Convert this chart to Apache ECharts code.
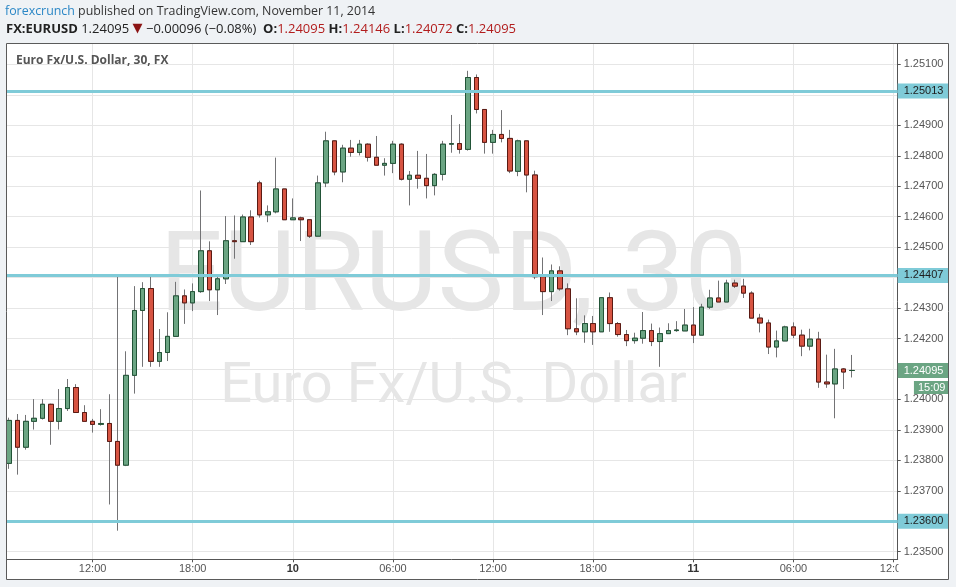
<!DOCTYPE html>
<html><head><meta charset="utf-8">
<script src="https://cdn.jsdelivr.net/npm/echarts@6/dist/echarts.min.js"></script>
<style>html,body{margin:0;padding:0;background:#eff2f5;}#c{width:956px;height:587px;}</style>
</head><body><div id="c"></div>
<script>
// ---- time categories (30-minute bars) ----
const day9 = ['07:00','07:30','08:00','08:30','09:00','09:30','10:00','10:30','11:00','11:30','12:00','12:30','13:00','13:30','14:00','14:30','15:00','15:30','16:00','16:30','17:00','17:30','18:00','18:30','19:00','19:30','20:00','20:30','21:00','21:30','22:00','22:30','23:00','23:30'];
const day10 = ['00:00','00:30','01:00','01:30','02:00','02:30','03:00','03:30','04:00','04:30','05:00','05:30','06:00','06:30','07:00','07:30','08:00','08:30','09:00','09:30','10:00','10:30','11:00','11:30','12:00','12:30','13:00','13:30','14:00','14:30','15:00','15:30','16:00','16:30','17:00','17:30','18:00','18:30','19:00','19:30','20:00','20:30','21:00','21:30','22:00','22:30','23:00','23:30'];
const day11 = ['00:00','00:30','01:00','01:30','02:00','02:30','03:00','03:30','04:00','04:30','05:00','05:30','06:00','06:30','07:00','07:30','08:00','08:30','09:00','09:30','10:00','10:30','11:00','11:30','12:00'];
const categories = day9.map(t => '9 ' + t).concat(day10.map(t => '10 ' + t), day11.map(t => '11 ' + t));

// ---- tick labels ----
const tickCats = ['9 12:00','9 18:00','10 00:00','10 06:00','10 12:00','10 18:00','11 00:00','11 06:00','11 12:00'];
const tickLabels = ['12:00','18:00','10','06:00','12:00','18:00','11','06:00','12:00'];
const boldTicks = ['10','11'];

// ---- OHLC values ----
const opens = [1.23790,1.23931,1.23843,1.23928,1.23938,1.23984,1.23928,1.23970,1.24039,1.23957,
1.23928,1.23918,1.23921,1.23862,1.23784,1.24079,1.24292,1.24364,1.24125,1.24154,
1.24207,1.24340,1.24317,1.24354,1.24488,1.24360,1.24396,1.24521,1.24518,1.24599,
1.24711,1.24606,1.24616,1.24691,1.24590,1.24596,1.24590,1.24536,1.24711,1.24849,
1.24747,1.24825,1.24811,1.24838,1.24795,1.24769,1.24775,1.24838,1.24723,1.24736,
1.24726,1.24702,1.24739,1.24838,1.24840,1.24821,1.25057,1.24952,1.24844,1.24870,
1.24857,1.24749,1.24849,1.24737,1.24403,1.24354,1.24422,1.24363,1.24232,1.24222,
1.24249,1.24222,1.24334,1.24249,1.24213,1.24193,1.24201,1.24226,1.24190,1.24216,
1.24226,1.24225,1.24244,1.24211,1.24303,1.24333,1.24320,1.24382,1.24372,1.24349,
1.24267,1.24251,1.24172,1.24192,1.24238,1.24211,1.24175,1.24198,1.24057,1.24051,
1.24100,1.24095];
const highs = [1.23940,1.23952,1.23949,1.24001,1.24001,1.23986,1.24034,1.24067,1.24050,1.23981,
1.23936,1.23968,1.24017,1.24405,1.24158,1.24372,1.24385,1.24405,1.24231,1.24286,
1.24386,1.24361,1.24381,1.24686,1.24519,1.24407,1.24602,1.24604,1.24607,1.24621,
1.24718,1.24637,1.24794,1.24691,1.24660,1.24600,1.24590,1.24735,1.24879,1.24850,
1.24836,1.24852,1.24852,1.24841,1.24865,1.24792,1.24849,1.24841,1.24750,1.24816,
1.24806,1.24743,1.24849,1.24934,1.24904,1.25079,1.25067,1.24952,1.24885,1.24950,
1.24885,1.24853,1.24849,1.24751,1.24466,1.24443,1.24437,1.24381,1.24332,1.24276,
1.24274,1.24334,1.24351,1.24254,1.24228,1.24219,1.24287,1.24249,1.24236,1.24250,
1.24257,1.24297,1.24303,1.24314,1.24360,1.24390,1.24393,1.24393,1.24396,1.24355,
1.24281,1.24262,1.24226,1.24242,1.24253,1.24229,1.24232,1.24222,1.24147,1.24166,
1.24103,1.24146];
const lows = [1.23772,1.23753,1.23835,1.23901,1.23934,1.23851,1.23901,1.23962,1.23957,1.23928,
1.23891,1.23914,1.23655,1.23569,1.23781,1.24019,1.24107,1.24107,1.24107,1.24126,
1.24206,1.24248,1.24290,1.24350,1.24323,1.24277,1.24379,1.24462,1.24518,1.24507,
1.24597,1.24582,1.24611,1.24590,1.24590,1.24520,1.24530,1.24536,1.24697,1.24736,
1.24713,1.24797,1.24801,1.24781,1.24769,1.24735,1.24743,1.24719,1.24637,1.24692,
1.24660,1.24670,1.24719,1.24810,1.24807,1.24817,1.24939,1.24807,1.24807,1.24844,
1.24743,1.24733,1.24680,1.24395,1.24277,1.24323,1.24357,1.24211,1.24211,1.24186,
1.24179,1.24222,1.24222,1.24206,1.24175,1.24183,1.24183,1.24175,1.24107,1.24216,
1.24222,1.24225,1.24185,1.24211,1.24297,1.24320,1.24320,1.24366,1.24333,1.24267,
1.24220,1.24149,1.24138,1.24192,1.24201,1.24142,1.24161,1.24038,1.24038,1.23938,
1.24034,1.24072];
const closes = [1.23931,1.23843,1.23928,1.23938,1.23984,1.23928,1.23970,1.24039,1.23957,1.23928,
1.23918,1.23921,1.23862,1.23784,1.24079,1.24292,1.24364,1.24125,1.24154,1.24207,
1.24340,1.24317,1.24354,1.24488,1.24360,1.24396,1.24521,1.24518,1.24599,1.24518,
1.24606,1.24616,1.24691,1.24590,1.24596,1.24590,1.24536,1.24711,1.24849,1.24747,
1.24825,1.24811,1.24838,1.24795,1.24769,1.24775,1.24838,1.24723,1.24736,1.24726,
1.24702,1.24739,1.24838,1.24840,1.24821,1.25057,1.24952,1.24844,1.24870,1.24857,
1.24750,1.24849,1.24737,1.24403,1.24354,1.24422,1.24363,1.24232,1.24222,1.24249,
1.24222,1.24334,1.24249,1.24213,1.24193,1.24201,1.24226,1.24190,1.24216,1.24226,
1.24228,1.24244,1.24211,1.24303,1.24333,1.24320,1.24382,1.24372,1.24349,1.24267,
1.24251,1.24172,1.24192,1.24238,1.24211,1.24175,1.24198,1.24057,1.24051,1.24100,
1.24090,1.24095];

// ---- horizontal levels and last price ----
const levels = [1.25013, 1.24407, 1.23600];
const lastPrice = 1.24095;
const countdown = '15:09';

// ---- axis range ----
const yMin = 1.23475, yMax = 1.25167;

const FONT = "'Liberation Sans', Arial, sans-serif";
const HFONT = "'Open Sans', 'Noto Sans', sans-serif";
const UP = '#6ba583', DOWN = '#d75442', UPB = '#225437', DOWNB = '#5b1a13', WICK = '#737375';
const CYAN = '#7fcbd8';

const wickData = opens.map((o, i) => [o, closes[i], lows[i], highs[i]]);
const bodyData = opens.map((o, i) => [o, closes[i], Math.min(o, closes[i]), Math.max(o, closes[i])]);
const isTick = (i, v) => tickCats.indexOf(v) >= 0;
const covered = v => levels.concat([lastPrice]).some(l => Math.abs(l - v) < 0.00025);

const chart = echarts.init(document.getElementById('c'), null, {renderer: 'canvas'});
chart.setOption({
  backgroundColor: '#eff2f5',
  animation: false,
  grid: {left: 5, right: 58.3, top: 44, bottom: 27.7, containLabel: false, outerBoundsMode: 'none'},
  xAxis: {
    type: 'category', data: categories, boundaryGap: true,
    axisLine: {show: true, lineStyle: {color: '#555', width: 1}},
    axisTick: {show: true, length: 3, alignWithLabel: true, interval: isTick, lineStyle: {color: '#555'}},
    axisLabel: {
      interval: isTick, margin: 4, color: '#555', fontSize: 11, fontFamily: FONT,
      formatter: v => { const t = tickLabels[tickCats.indexOf(v)]; return boldTicks.indexOf(t) >= 0 ? '{d|' + t + '}' : t; },
      rich: {d: {fontWeight: 'bold', color: '#333', fontSize: 11, fontFamily: FONT}}
    },
    splitLine: {show: true, interval: isTick, alignWithLabel: true, lineStyle: {color: '#e6e6e6', width: 1}}
  },
  yAxis: {
    type: 'value', position: 'right', min: yMin, max: yMax, splitNumber: 16, scale: true,
    axisLine: {show: true, lineStyle: {color: '#555', width: 1}},
    axisTick: {show: true, length: 3, lineStyle: {color: '#555'}},
    axisLabel: {
      margin: 6, color: '#555', fontSize: 11, fontFamily: FONT, showMinLabel: false, showMaxLabel: false,
      formatter: v => covered(v) ? '' : v.toFixed(5)
    },
    splitLine: {show: true, showMinLine: false, showMaxLine: false, lineStyle: {color: '#e6e6e6', width: 1}}
  },
  series: [
    {
      type: 'candlestick', name: 'wick', data: wickData, barWidth: 5, silent: true,
      itemStyle: {color: 'transparent', color0: 'transparent', borderColor: WICK, borderColor0: WICK, borderWidth: 1}
    },
    {
      type: 'candlestick', name: 'EURUSD', data: bodyData, barWidth: 5,
      itemStyle: {color: UP, color0: DOWN, borderColor: UPB, borderColor0: DOWNB, borderWidth: 1},
      markLine: {
        silent: true, symbol: ['none', 'none'], precision: 5, animation: false,
        lineStyle: {color: CYAN, width: 3, type: 'solid'},
        label: {show: true, position: 'end', distance: 0, formatter: p => p.value.toFixed(5),
          backgroundColor: CYAN, color: '#1e1e1e', fontSize: 11, fontFamily: FONT, padding: [2, 5, 2, 6]},
        emphasis: {disabled: true},
        data: levels.map(v => ({yAxis: v})).concat([{
          yAxis: lastPrice,
          lineStyle: {color: 'rgba(0,0,0,0)', width: 1, opacity: 1},
          label: {
            opacity: 1,
            formatter: '{c| }\n{a|' + lastPrice.toFixed(5) + '}\n{b|' + countdown + '}',
            backgroundColor: 'transparent', padding: 0,
            rich: {
              c: {fontSize: 11, lineHeight: 17},
              a: {backgroundColor: UP, color: '#fff', fontSize: 11, fontFamily: FONT, padding: [2, 5, 2, 6], lineHeight: 17},
              b: {backgroundColor: UP, color: '#fff', fontSize: 11, fontFamily: FONT, padding: [1, 3, 1, 4], lineHeight: 17, align: 'right'}
            }
          }
        }])
      }
    }
  ],
  graphic: [
    {type: 'rect', z: -10, silent: true, shape: {x: 6.5, y: 43.5, width: 942, height: 536}, style: {fill: '#ffffff'}},
    {type: 'text', z: -5, silent: true, style: {text: 'EURUSD, 30', x: 453.5, y: 282, align: 'center', verticalAlign: 'middle',
      font: '112px Roboto, sans-serif', fill: '#e6e6e6'}},
    {type: 'text', z: -5, silent: true, style: {text: 'Euro Fx/U.S. Dollar', x: 453.5, y: 388, align: 'center', verticalAlign: 'middle',
      font: '56px Roboto, sans-serif', fill: '#e6e6e6'}},
    {type: 'text', z: 20, silent: true, style: {text: 'Euro Fx/U.S. Dollar, 30, FX', x: 16, y: 61, verticalAlign: 'middle',
      font: 'bold 12px ' + HFONT, fill: '#555'}},
    {type: 'rect', z: 55, silent: true, shape: {x: 898.5, y: 560.5, width: 50, height: 18.5}, style: {fill: '#ffffff'}},
    {type: 'rect', z: 55, silent: true, shape: {x: 0, y: 40, width: 6, height: 545}, style: {fill: '#eff2f5'}},
    {type: 'rect', z: 60, silent: true, shape: {x: 6.5, y: 43.5, width: 942, height: 536}, style: {fill: 'none', stroke: '#5a5a5a', lineWidth: 1}},
    {type: 'text', z: 20, silent: true, style: {
      text: '{bl|forexcrunch} published on TradingView.com, November 11, 2014', x: 5, y: 11.5, verticalAlign: 'middle',
      font: '12.4px ' + HFONT, fill: '#333',
      rich: {bl: {fill: '#2b87c6', fontSize: 12.4, fontFamily: HFONT}}
    }},
    {type: 'text', z: 20, silent: true, style: {
      text: '{b|FX:EURUSD} {n|1.24095 }{t|▼}{n| \u22120.00096 (\u22120.08%)  }{b|O:}{r|1.24095} {b|H:}{r|1.24146} {b|L:}{r|1.24072} {b|C:}{r|1.24095}',
      x: 6, y: 29, verticalAlign: 'middle', font: '13px ' + HFONT, fill: '#222',
      rich: {
        b: {fontWeight: 'bold', fill: '#222', fontSize: 13, fontFamily: HFONT},
        n: {fill: '#222', fontSize: 13, fontFamily: HFONT},
        t: {fill: '#8b1414', fontSize: 13, fontFamily: 'DejaVu Sans'},
        r: {fill: '#b21d1d', fontSize: 13, fontFamily: HFONT}
      }
    }}
  ]
});
</script></body></html>
